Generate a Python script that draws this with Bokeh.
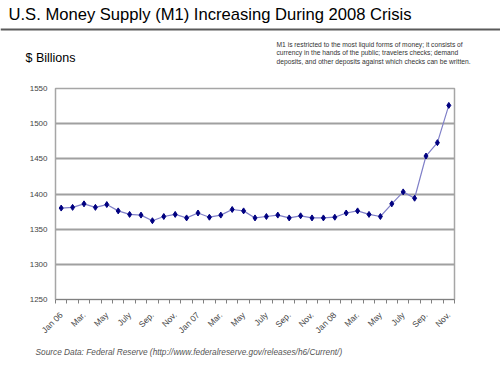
import math
from bokeh.plotting import figure
from bokeh.layouts import column
from bokeh.models import FixedTicker, Range1d
from bokeh.core.properties import value
from bokeh.embed import file_html
from bokeh.resources import INLINE

# ---- data ----
months = ["Jan 06", "Feb", "Mar.", "Apr", "May", "Jun", "July", "Aug", "Sep.", "Oct", "Nov.", "Dec",
          "Jan 07", "Feb", "Mar.", "Apr", "May", "Jun", "July", "Aug", "Sep.", "Oct", "Nov.", "Dec",
          "Jan 08", "Feb", "Mar.", "Apr", "May", "Jun", "July", "Aug", "Sep.", "Oct", "Nov."]
m1 = [1380, 1381, 1386, 1381, 1385, 1376, 1371, 1370, 1362, 1368, 1371, 1366,
      1373, 1367, 1370, 1378, 1376, 1366, 1368, 1370, 1366, 1369, 1366, 1366,
      1367, 1373, 1376, 1371, 1368, 1386, 1403, 1394, 1454, 1473, 1526]
y_ticks = [1250, 1300, 1350, 1400, 1450, 1500, 1550]

title_text = "U.S. Money Supply (M1) Increasing During 2008 Crisis"
unit_text = "$ Billions"
note_lines = ["M1 is restricted to the most liquid forms of money; it consists of",
              "currency in the hands of the public; travelers checks; demand",
              "deposits, and other deposits against which checks can be written."]
source_text = "Source Data: Federal Reserve (http://www.federalreserve.gov/releases/h6/Current/)"

FONT = "Liberation Sans"
W = 500


def blank(height):
    f = figure(width=W, height=height, output_backend="svg", toolbar_location=None,
               x_range=Range1d(0, W), y_range=Range1d(height, 0),
               x_axis_location=None, y_axis_location=None, frame_align=False,
               min_border=0, min_border_left=0, min_border_right=0,
               min_border_top=0, min_border_bottom=0)
    f.grid.visible = False
    f.outline_line_color = None
    f.background_fill_color = "white"
    f.border_fill_color = "white"
    return f


# ---- header ----
hdr = blank(80)
hdr.text(x=[8], y=[14], text=[title_text], text_font=value(FONT), text_font_size="16.6px",
         text_color="#000000", text_baseline="middle", text_align="left")
hdr.segment(x0=[0], y0=[29], x1=[W], y1=[29], line_color="#5a5a5a", line_width=2)
hdr.text(x=[25], y=[57], text=[unit_text], text_font=value(FONT), text_font_size="12.5px",
         text_color="#000000", text_baseline="middle", text_align="left")
hdr.text(x=[276, 276, 276], y=[43.5, 52.2, 60.9], text=note_lines, text_font=value(FONT),
         text_font_size="6.7px", text_color="#333333", text_baseline="middle", text_align="left")

# ---- main chart ----
xs = list(range(len(m1)))
label_pos = [i for i in xs if i % 2 == 0]
overrides = {i: months[i] for i in label_pos}
minor = [i - 0.5 for i in xs] + [len(xs) - 0.5]

p = figure(width=W, height=265, output_backend="svg", toolbar_location=None,
           x_range=Range1d(-0.5, len(xs) - 0.5), y_range=Range1d(1250, 1550), frame_align=False,
           min_border_left=55, min_border_right=46, min_border_top=8, min_border_bottom=46)
p.background_fill_color = "white"
p.border_fill_color = "white"
p.outline_line_color = "#a6a6a6"
p.outline_line_width = 1.5

p.xaxis.ticker = FixedTicker(ticks=label_pos, minor_ticks=minor)
p.xaxis.major_label_overrides = overrides
p.xaxis.major_label_orientation = math.pi / 4
p.xaxis.major_tick_out = 0
p.xaxis.major_tick_in = 0
p.xaxis.minor_tick_out = 4
p.xaxis.minor_tick_in = 0
p.xaxis.minor_tick_line_color = "#808080"
p.xaxis.axis_line_color = "#808080"
p.xaxis.major_label_text_font = FONT
p.xaxis.major_label_text_font_size = "8.5px"
p.xaxis.major_label_text_color = "#444444"
p.xaxis.major_label_standoff = 10

p.yaxis.ticker = FixedTicker(ticks=y_ticks)
p.yaxis.major_tick_out = 0
p.yaxis.major_tick_in = 0
p.yaxis.minor_tick_line_color = None
p.yaxis.axis_line_color = "#a6a6a6"
p.yaxis.major_label_text_font = FONT
p.yaxis.major_label_text_font_size = "8px"
p.yaxis.major_label_text_color = "#444444"
p.yaxis.major_label_standoff = 8

p.xgrid.grid_line_color = None
p.ygrid.ticker = FixedTicker(ticks=y_ticks)
p.ygrid.grid_line_color = "#a0a0a0"
p.ygrid.grid_line_width = 1.8

p.line(xs, m1, line_color="#8080c8", line_width=1.2)
p.scatter(xs, m1, marker="diamond", size=6, fill_color="#000080", line_color="#000080")

# ---- footer ----
ftr = blank(30)
ftr.text(x=[35], y=[6.5], text=[source_text], text_font=value(FONT), text_font_size="8.3px",
         text_font_style="italic", text_color="#555555", text_baseline="middle", text_align="left")

layout = column(hdr, p, ftr, spacing=0)
open("out.html", "w").write(file_html(layout, INLINE))
